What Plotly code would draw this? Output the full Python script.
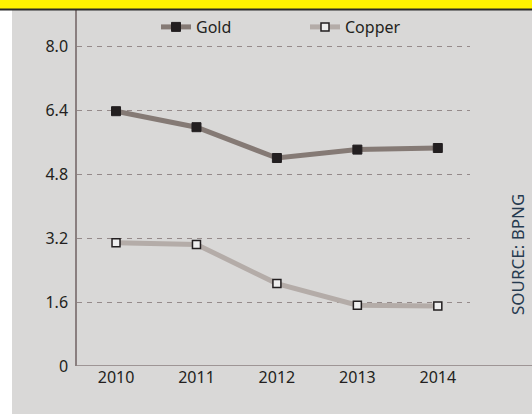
import plotly.graph_objects as go

years = [2010, 2011, 2012, 2013, 2014]
gold = [6.37, 5.97, 5.20, 5.41, 5.45]
copper = [3.08, 3.04, 2.06, 1.52, 1.50]
tick_vals = [0, 1.6, 3.2, 4.8, 6.4, 8.0]
tick_text = ["0", "1.6", "3.2", "4.8", "6.4", "8.0"]

# plot area in pixels: left 77, right 470, top 10, bottom 366
L, R, T, B = 77, 470, 10, 366
W, H = 532, 414
def px(x):
    return (x - L) / (R - L)
def py(y):
    return (B - y) / (B - T)

font_name = "Noto Sans"
ink = "#231f20"

fig = go.Figure()
fig.add_trace(go.Scatter(
    x=years, y=gold, name="Gold", mode="lines+markers",
    line=dict(color="#857a75", width=5),
    marker=dict(symbol="square", size=9, color=ink, line=dict(color=ink, width=1)),
))
fig.add_trace(go.Scatter(
    x=years, y=copper, name="Copper", mode="lines+markers",
    line=dict(color="#b4aca8", width=5),
    marker=dict(symbol="square", size=8, color="#eeeeee", line=dict(color=ink, width=1.5)),
))

shapes = [
    # white strip on the left
    dict(type="rect", xref="paper", yref="paper", x0=px(0), x1=px(12), y0=py(H), y1=py(0),
         fillcolor="white", line_width=0, layer="above"),
    # yellow band at top
    dict(type="rect", xref="paper", yref="paper", x0=px(0), x1=px(W), y0=py(9), y1=py(0),
         fillcolor="#fff200", line_width=0, layer="above"),
    dict(type="line", xref="paper", yref="paper", x0=px(0), x1=px(W), y0=py(9.5), y1=py(9.5),
         line=dict(color="#2a2a2a", width=2), layer="above"),
    # x axis line running out to the right edge
    dict(type="line", xref="paper", yref="y", x0=0, x1=px(W), y0=0, y1=0,
         line=dict(color="#8a7f7f", width=1.5), layer="above"),
]

fig.update_layout(
    width=W, height=H,
    margin=dict(l=L, r=W - R, t=T, b=H - B, autoexpand=False),
    paper_bgcolor="#d9d8d7", plot_bgcolor="#d9d8d7",
    font=dict(family=font_name, size=16, color=ink),
    showlegend=True,
    legend=dict(orientation="h", x=px(156), y=py(27), xanchor="left", yanchor="middle",
                bgcolor="rgba(0,0,0,0)", entrywidth=104, entrywidthmode="pixels",
                font=dict(size=16, color=ink)),
    shapes=shapes,
    annotations=[dict(text="SOURCE: BPNG", xref="paper", yref="paper", x=px(517), y=py(255),
                      xanchor="center", yanchor="middle",
                      textangle=-90, showarrow=False, font=dict(size=17, color="#263a4f"))],
)
fig.update_xaxes(range=[2009.515, 2014.4], tickvals=years, showgrid=False, zeroline=False,
                 showline=False, ticks="", tickfont=dict(size=16, color=ink))
fig.update_yaxes(range=[0, 8.9], tickvals=tick_vals, ticktext=tick_text, showgrid=True,
                 gridcolor="#958a8a", griddash="5px,5px", gridwidth=1, zeroline=False,
                 showline=True, linecolor="#8a7f7f", linewidth=1.5, ticks="",
                 ticklabelstandoff=4, tickfont=dict(size=16, color=ink))

fig.write_html("out.html", config={"displayModeBar": False},
               post_script="document.body.style.margin='0';")
